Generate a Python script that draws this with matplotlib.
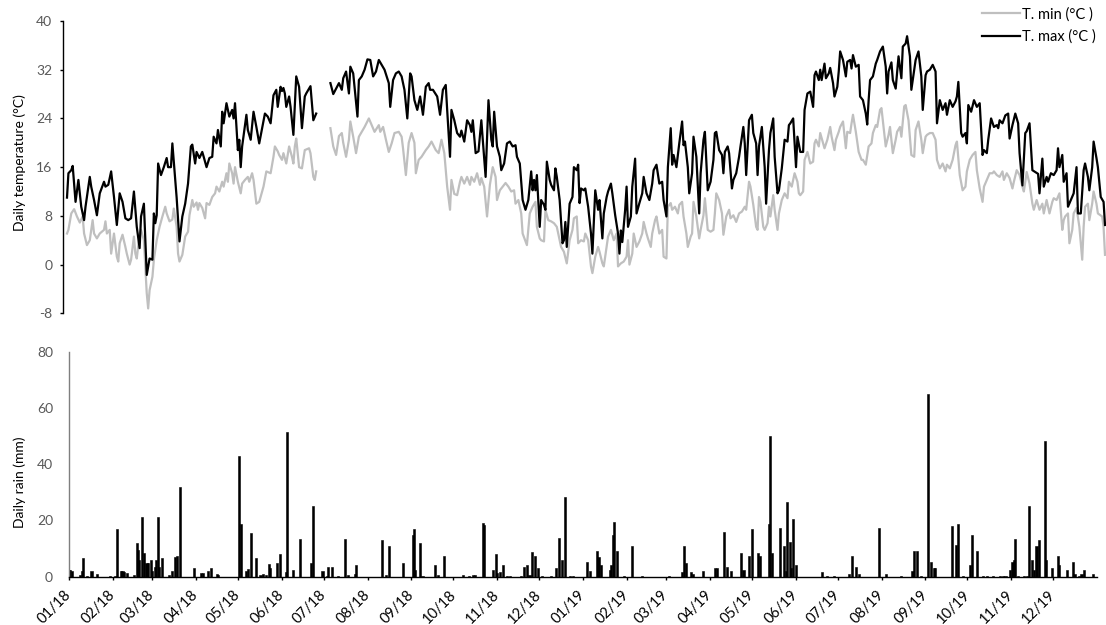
import numpy as np
import pandas as pd
import matplotlib
matplotlib.use("Agg")
import matplotlib.pyplot as plt

# ---------------- data (day offsets from 1 Jan 2018) ----------------
start = pd.Timestamp("2018-01-01")

tmax_day = [0, 1, 3, 4, 6, 8, 10, 12, 13, 16, 17, 19, 21, 23, 26, 27, 29, 31, 33, 35, 37, 39, 41, 43, 45, 47, 49, 51, 52, 54,
            55, 56, 58, 60, 61, 62, 63, 64, 66, 68, 70, 71, 73, 74, 77, 79, 81, 83, 85, 87, 88, 90, 91, 93, 95, 96, 98, 100, 102, 103,
            105, 106, 108, 109, 110, 112, 114, 116, 117, 118, 120, 121, 122, 123, 126, 127, 129, 131, 133, 135, 139, 141, 143, 145, 147, 148, 150, 151, 152, 153,
            154, 156, 157, 159, 161, 163, 165, 167, 168, 171, 173, 175, 180, 185, 187, 189, 191, 193, 194, 196, 198, 199, 201, 204, 205, 207, 209, 211, 213, 215,
            217, 219, 221, 223, 226, 227, 229, 231, 233, 235, 237, 239, 241, 242, 244, 246, 248, 250, 252, 254, 255, 257, 260, 262, 264, 266, 267, 269, 270, 272,
            274, 276, 277, 279, 281, 283, 284, 285, 287, 289, 291, 292, 294, 296, 298, 299, 300, 302, 304, 305, 307, 309, 311, 313, 315, 316, 318, 320, 322, 324,
            326, 327, 328, 329, 330, 332, 333, 335, 336, 337, 339, 340, 342, 343, 344, 346, 348, 349, 350, 351, 353, 355, 356, 358, 359, 360, 361, 363, 364, 366,
            368, 369, 371, 373, 374, 376, 377, 379, 380, 382, 383, 385, 387, 388, 389, 390, 392, 393, 394, 396, 397, 399, 400, 402, 404, 405, 407, 409, 411, 412,
            414, 416, 418, 419, 421, 422, 424, 425, 426, 428, 430, 432, 433, 434, 436, 437, 439, 440, 442, 444, 445, 447, 448, 450, 452, 454, 455, 456, 458, 460,
            461, 462, 464, 465, 467, 468, 470, 472, 473, 475, 476, 477, 479, 481, 482, 484, 485, 486, 488, 490, 491, 493, 494, 496, 497, 499, 500, 502, 504, 506,
            507, 508, 510, 512, 513, 515, 517, 518, 520, 522, 524, 525, 526, 528, 529, 530, 532, 533, 535, 536, 538, 539, 541, 542, 543, 545, 547, 548, 550, 551,
            552, 554, 556, 557, 559, 561, 562, 563, 564, 566, 568, 569, 571, 573, 575, 576, 577, 579, 580, 582, 584, 586, 587, 589, 590, 592, 593, 595, 596, 598,
            600, 601, 603, 604, 606, 608, 610, 611, 613, 615, 617, 618, 620, 622, 624, 625, 626, 628, 629, 631, 632, 633, 635, 637, 639, 641, 643, 644, 646, 647,
            649, 651, 653, 654, 655, 657, 659, 661, 662, 664, 666, 668, 669, 671, 673, 674, 676, 677, 678, 680, 682, 683, 685, 686, 688, 689, 691, 693, 695, 696,
            697, 699, 700, 702, 703, 705, 707, 709, 710, 712, 714, 715, 717, 718, 720, 721, 723, 724, 726, 728, 729]
tmax_val = [11, 15, 15.5, 16.2, 10.3, 13.9, 9.5, 7.3, 9.5, 14.4, 12.8, 10.6, 8.1, 11.7, 13.6, 12.8, 13.1, 15.3, 11.1, 6.5, 11.7, 10.3, 7.6, 7.3, 7.6, 12, 6.2, 2.7, 7.9, 10,
            4, -1.7, 1, 0.8, 8.4, 6.8, 8.1, 16.6, 14.7, 16, 17.5, 16, 16, 19.9, 11, 3.8, 7.9, 10, 13.3, 19.4, 19.7, 16.6, 18.5, 17.5, 18.5, 17.7, 16, 17.5, 17.7, 21,
            19.9, 22.1, 19.4, 25.1, 23.2, 26.5, 24.3, 25.4, 24, 26.5, 18.8, 20.5, 16, 19.4, 24.6, 22.1, 20.5, 25.1, 22.6, 19.9, 24.8, 24.3, 23.2, 27.8, 28.7, 25.9, 29.2, 28.5, 29, 28.1,
            25.9, 27.6, 25.9, 21.3, 30.9, 29.2, 22.4, 27.6, 28.1, 29.3, 23.7, 24.8, np.nan, 29.8, 28, 28.9, 29.8, 28.7, 30.6, 31.7, 28.1, 32.5, 31.4, 24.3, 30.3, 30.9, 32, 33.7, 33.6, 30.9,
            31.7, 33.6, 32.8, 32, 29.8, 25.9, 30.3, 31.4, 31.7, 30.9, 28.7, 24, 31.4, 30.9, 27, 25.4, 27.6, 24.6, 29.2, 29.8, 28.7, 28.7, 27.6, 24.6, 28.7, 29.5, 25.4, 17.7, 25.4, 23.7,
            21.6, 21, 22, 20.2, 23.7, 22.9, 21.8, 23.7, 18.3, 18.6, 23.7, 20.5, 14.4, 27, 20.5, 19.4, 25.1, 19.4, 17.7, 15.5, 16.6, 19.9, 20.2, 19.4, 19.6, 17.7, 16.6, 10.6, 9, 10.6,
            15.3, 12.2, 13.9, 12.2, 14.7, 6.2, 10.6, 9.8, 9, 16.9, 13.9, 13.1, 12.2, 15.8, 14.4, 10.6, 3.5, 4, 7, 2.9, 10, 11.1, 16, 15.5, 16.4, 10.1, 12.5, 12.2, 12.5, 9.5,
            5.1, 1.8, 12.2, 9, 10.6, 4.3, 8.4, 11.1, 12, 13.3, 11.7, 8.1, 5.1, 1.8, 5.6, 3.7, 9, 12.8, 6.2, 7.9, 12.8, 17.4, 8.4, 10.1, 11.7, 14.4, 11.7, 10.6, 13.3, 15.5,
            16.4, 13.3, 13.6, 10.6, 7.9, 16, 22.4, 16.4, 18, 16, 19.9, 23.5, 19.6, 20.2, 16, 11.7, 15, 21, 17.7, 8.4, 15, 20.5, 21.8, 12.2, 13.6, 17.2, 21.6, 21.8, 18.8, 18,
            15, 18.5, 19.4, 18.3, 12.5, 13.9, 15, 17.7, 19.4, 22.6, 19.9, 14.7, 23.7, 24.6, 21.6, 19.9, 14.7, 19.4, 22.6, 16, 10, 18.8, 21.6, 24, 17.7, 11.7, 12.2, 15.8, 20.5, 20.2,
            22.9, 23.2, 24, 16, 21, 18.5, 18.5, 25.4, 28.1, 28.4, 25.9, 31.1, 31.7, 30.3, 32, 30.3, 33, 30.6, 31.4, 32.3, 29.8, 27.6, 29.2, 31.7, 35, 33.6, 30.9, 33.3, 33.6, 32.2,
            34.4, 32.5, 32.8, 27.6, 27, 24.8, 23, 27, 30.3, 30.9, 33, 33.6, 35, 35.8, 32.5, 28.1, 31.7, 33.2, 30.3, 28.9, 34.2, 30.6, 35.8, 36.3, 37.5, 34.2, 28.7, 31.9, 33.6, 35,
            30.9, 25.4, 31.1, 31.7, 32, 32.8, 31.7, 23.2, 27, 25.4, 26.5, 24.6, 27, 25.9, 26.8, 27.6, 30, 21.6, 21, 21.6, 19.9, 26.2, 25.1, 27, 25.9, 26.5, 18, 18.8, 18.3, 20.5,
            24, 22.6, 22.9, 22.4, 23.7, 23.2, 24.5, 24.8, 20.7, 22.9, 24.8, 23.2, 18.3, 13, 21.6, 21.9, 23.2, 19.4, 15.5, 15.2, 14.9, 11.7, 17.4, 12.8, 14.4, 13.6, 15, 14.7, 15.5, 19.1,
            16, 18, 13.6, 15, 9.5, 10.6, 11.7, 16, 8.4, 8.4, 15.5, 16.6, 14.4, 12.2, 16, 20.2, 17.5, 16, 11.1, 10.3, 6.5]

tmin_day = [0, 1, 3, 5, 7, 9, 11, 12, 14, 16, 18, 19, 21, 23, 26, 27, 28, 30, 31, 33, 34, 35, 36, 37, 39, 41, 42, 44, 45, 47,
            48, 49, 51, 52, 54, 55, 56, 57, 58, 60, 61, 63, 65, 67, 69, 70, 72, 74, 75, 77, 78, 79, 81, 83, 85, 86, 88, 89, 91, 92,
            93, 95, 97, 98, 100, 102, 104, 105, 107, 108, 109, 110, 112, 113, 114, 116, 117, 118, 120, 122, 123, 125, 127, 128, 130, 131, 133, 135, 138, 140,
            143, 145, 146, 148, 149, 151, 152, 154, 156, 158, 159, 160, 161, 163, 165, 167, 170, 171, 173, 174, 175, 180, 185, 187, 189, 191, 193, 194, 196, 198,
            199, 201, 203, 205, 207, 209, 212, 214, 216, 219, 220, 222, 224, 226, 228, 230, 233, 235, 236, 238, 240, 242, 244, 245, 247, 249, 252, 254, 256, 259,
            261, 263, 265, 267, 269, 270, 272, 274, 276, 277, 279, 281, 283, 284, 286, 288, 290, 291, 293, 295, 297, 299, 301, 302, 304, 306, 308, 310, 312, 314,
            315, 317, 319, 320, 323, 325, 327, 329, 330, 332, 333, 335, 336, 338, 340, 342, 344, 345, 347, 349, 351, 353, 355, 356, 358, 359, 361, 363, 364, 366,
            368, 369, 371, 373, 374, 376, 377, 379, 380, 382, 384, 386, 387, 389, 391, 393, 394, 395, 397, 398, 400, 402, 404, 405, 407, 408, 410, 411, 413, 414,
            416, 418, 419, 421, 422, 424, 425, 427, 429, 430, 432, 433, 435, 436, 438, 439, 440, 442, 444, 445, 447, 448, 450, 452, 454, 455, 456, 458, 460, 461,
            463, 465, 466, 468, 470, 472, 474, 476, 477, 479, 480, 482, 484, 485, 486, 487, 489, 490, 492, 493, 494, 496, 497, 499, 500, 502, 504, 506, 507, 509,
            511, 513, 514, 515, 517, 518, 520, 522, 524, 525, 526, 528, 529, 531, 532, 534, 536, 537, 539, 540, 542, 543, 545, 547, 548, 550, 551, 552, 554, 556,
            558, 559, 561, 563, 565, 566, 568, 569, 571, 572, 574, 575, 577, 578, 580, 582, 583, 585, 586, 588, 589, 591, 593, 595, 596, 598, 600, 601, 603, 604,
            606, 608, 610, 611, 613, 615, 617, 618, 620, 622, 624, 625, 627, 629, 631, 632, 634, 636, 638, 639, 641, 643, 644, 646, 648, 650, 651, 653, 655, 657,
            658, 660, 662, 664, 665, 667, 669, 671, 672, 674, 676, 678, 679, 681, 683, 685, 686, 688, 690, 692, 693, 695, 697, 699, 700, 701, 703, 704, 706, 707,
            709, 711, 713, 714, 715, 717, 718, 720, 721, 723, 724, 727, 728, 729]
tmin_val = [5.1, 5.7, 8.4, 9.1, 7.9, 6.9, 7.9, 5.1, 3.2, 4, 7.3, 5.1, 4.3, 5.1, 5.7, 7.1, 5.1, 5.7, 1.8, 5.1, 3.2, 1.3, 0.5, 3.5, 4.9, 2.9, 1.8, 0, 0.8, 4.6,
            1.8, 1, 5.1, 5.7, 4, -0.3, -4.7, -7.2, -4.2, -2, 0.8, 4, 6.2, 7.9, 9.5, 8.4, 7.1, 7.4, 9.2, 6.2, 1.8, 0.5, 1.6, 4.6, 5.4, 8.1, 10.6, 9.5, 10.2, 9,
            10.1, 9.3, 7.6, 10.1, 9.8, 11.1, 11.7, 12.8, 12, 12.8, 13.6, 12.8, 15, 13.6, 16.6, 15, 13.3, 16, 13.6, 11.7, 13.3, 13.9, 14.4, 13.6, 15, 13.9, 10, 10.3, 12.8, 15.3,
            15, 17.7, 19.4, 18.6, 18, 17.2, 18.3, 16.6, 19.4, 17.7, 16.6, 19.4, 20.7, 16, 15.8, 18.8, 19.1, 18.3, 14.4, 13.9, 15.3, np.nan, 22.4, 19.4, 18, 21.1, 21.6, 20, 17.7, 20.5,
            23.5, 21, 18.3, 21, 21.8, 22.6, 24, 22.9, 21.8, 22.9, 21.8, 22.6, 20.5, 18.5, 19.9, 21.6, 21.8, 21, 19.1, 14.7, 20, 21.6, 20, 15, 17.2, 17.7, 18.8, 19.4, 20.2, 18.8,
            18.3, 20.5, 18.3, 12.8, 9, 13.9, 11.6, 11.4, 13.6, 14.4, 13.3, 14.4, 13.1, 14.4, 13.6, 15, 13.1, 14.2, 12.8, 7.9, 13.1, 16, 14.4, 10.6, 12.2, 12.8, 13.4, 12.8, 12, 12.2,
            10, 10.6, 8.4, 5.1, 3.2, 8.4, 9.5, 10.3, 6.2, 4.3, 4, 3.8, 9, 7.3, 7.1, 6.8, 6.2, 5.1, 2.9, 2.1, 0.2, 4, 5.7, 7.6, 7.9, 3.5, 4, 3.8, 5.1, 4,
            -0.3, -1.4, 1.3, 2.9, 2.1, 0.2, -0.3, 2.9, 4.6, 5.7, 4, 5.1, -0.3, 0.2, 0.5, 1.3, 4, 0, 1.8, 5.1, 2.9, 3.8, 5.1, 7, 5.1, 4.3, 2.9, 5.1, 7.3, 7.9,
            5.1, 5.7, 1.3, 1, 9.5, 10.1, 9, 9.5, 8.4, 9.8, 10.3, 7.9, 5.1, 2.9, 4.6, 5.1, 10.3, 7.9, 4.3, 5.7, 8.1, 10.9, 5.7, 5.4, 5.7, 8.4, 11.7, 10.6, 8.4, 4.9,
            7.9, 9, 7.6, 8.1, 7, 8.4, 8.7, 9.5, 9, 13.6, 12.8, 9.8, 6.2, 5.7, 11.1, 10.3, 6.2, 5.7, 6.8, 9.5, 7.9, 11.4, 9, 5.7, 8.4, 10.6, 11.7, 10.9, 13.6, 12.8,
            15, 13.6, 11.7, 11.4, 12, 17.2, 18.5, 16.6, 16.9, 19.9, 20.5, 19.4, 21.6, 19.9, 19.1, 20.5, 22.6, 21, 18.8, 20.5, 21.8, 22.6, 23.5, 19.1, 21.8, 21.6, 23.2, 24.6, 21.8, 18.5,
            17.2, 17.2, 16.4, 19.4, 19.9, 21.6, 22.9, 22.6, 25.4, 25.7, 21.6, 19.4, 21.3, 22.6, 18.3, 20.5, 21.8, 22.6, 21, 26, 26.2, 23.7, 18, 17.7, 22.1, 23.5, 20.5, 18.3, 21, 21.3,
            21.6, 21.6, 20.5, 17.2, 15.8, 16.6, 15.3, 16.4, 15.8, 17.2, 19.6, 20.2, 14.7, 12.2, 12.8, 15.3, 17.2, 18, 18.5, 15.5, 12.5, 10.3, 12.8, 13.9, 15, 15, 15.3, 14.7, 14.4, 15.3,
            13.9, 15, 14.2, 12.5, 13.6, 15.5, 14.7, 12.8, 12, 15.2, 13.3, 10, 9, 10.6, 9, 10, 8.4, 10.6, 8.4, 10.3, 10.9, 10.6, 11.7, 5.7, 7.3, 7.9, 8.4, 3.5, 5.7, 8.4,
            9.3, 6.2, 0.8, 6.2, 9.5, 10, 7.3, 10, 12, 10, 8.4, 7.9, 6.2, 1.6]

rain_day = [0, 1, 2, 8, 9, 10, 13, 16, 20, 29, 33, 34, 37, 38, 39, 41, 46, 48, 49, 50, 52, 53, 55, 56, 58, 59, 61, 62, 63, 64,
            66, 71, 73, 75, 77, 79, 89, 94, 95, 99, 101, 105, 106, 121, 122, 126, 127, 129, 133, 136, 138, 140, 142, 143, 148, 150, 154, 155, 159, 164,
            172, 173, 180, 183, 184, 187, 191, 196, 198, 203, 204, 222, 225, 227, 237, 244, 245, 246, 249, 251, 260, 262, 266, 280, 284, 287, 288, 294, 295, 301,
            303, 304, 306, 308, 311, 313, 321, 323, 325, 327, 329, 331, 333, 336, 342, 346, 348, 350, 352, 356, 358, 368, 370, 375, 376, 378, 384, 385, 386, 387,
            389, 394, 400, 407, 426, 435, 437, 438, 442, 443, 450, 459, 460, 465, 467, 470, 477, 479, 483, 485, 489, 491, 497, 498, 499, 505, 508, 509, 510, 512,
            513, 514, 516, 535, 538, 543, 554, 556, 559, 561, 575, 580, 591, 599, 600, 602, 605, 610, 612, 614, 615, 627, 630, 631, 635, 640, 641, 645, 649, 652,
            656, 661, 663, 665, 668, 670, 671, 672, 674, 678, 680, 682, 684, 685, 687, 689, 693, 694, 698, 702, 703, 709, 713, 714, 717, 719, 721, 727]
rain_mm = [2.5, 2.5, 2.0, 0.6, 2, 6.5, 0.4, 2, 0.8, 0.4, 0.4, 17, 2.1, 2, 1.5, 1.4, 0.5, 12.1, 9.5, 5.9, 21.3, 8.3, 4.7, 4.7, 5.9, 2, 3.6, 5.9, 21.3, 3.6,
           6.5, 0.6, 2, 7.1, 7.5, 31.8, 3.2, 1.2, 1.4, 2, 3.2, 0.8, 0.5, 42.9, 18.6, 2, 2.6, 15.4, 6.5, 0.6, 1, 0.6, 4.6, 3.2, 4.7, 8.1, 1.8, 51.6, 2.4, 13.5,
           4.7, 25.1, 2, 0.4, 3.6, 3.6, 0.3, 13.5, 0.5, 0.8, 4.1, 12.9, 0.6, 10.8, 4.7, 14.7, 16.8, 2.4, 11.9, 0.4, 4.1, 0.6, 7.3, 0.6, 0.4, 0.6, 0.6, 19.1, 18.3, 2.4,
           8.1, 1.2, 1.8, 4.1, 0.4, 0.3, 0.4, 3.6, 4.1, 0.6, 8.7, 7.3, 3, 0.4, 0.4, 3, 13.6, 5.9, 28.4, 0.4, 0.4, 5.3, 2.1, 9.2, 6.9, 4.1, 2.4, 4.1, 14.7, 19.6,
           9.2, 0.3, 10.9, 0.3, 0.3, 1.8, 10.9, 4.7, 1.8, 1, 2, 3, 3, 15.8, 3.6, 2.1, 8.5, 2.4, 7.3, 16.8, 8.5, 7.3, 18.6, 50, 8.5, 17.4, 10.9, 2, 26.7, 12.4,
           3, 20.6, 4.1, 1.5, 0.3, 0.3, 1, 7.5, 3.6, 0.8, 17.4, 1, 0.3, 2, 9.2, 9.2, 0.3, 65, 5.3, 3, 3, 18.1, 11.3, 18.6, 0.3, 4.1, 14.7, 9.2, 0.3, 0.3,
           0.3, 0.4, 0.4, 0.4, 2.4, 5.3, 5.9, 13.5, 0.3, 0.3, 0.3, 25.2, 5.9, 2.4, 10.9, 13, 48.4, 5.9, 3, 7.5, 4.1, 2.4, 5.3, 0.8, 0.3, 0.8, 2.4, 0.8]

temp_ticks = [-8, 0, 8, 16, 24, 32, 40]
rain_ticks = [0, 20, 40, 60, 80]
month_starts = pd.date_range("2018-01-01", "2019-12-01", freq="MS")
month_ticks = list((month_starts - start).days)
month_labels = [d.strftime("%m/%y") for d in month_starts]

# ---------------- figure ----------------
plt.rcParams["font.family"] = ["Lato", "DejaVu Sans"]
plt.rcParams["axes.unicode_minus"] = False
W, H = 1106, 625
fig = plt.figure(figsize=(W / 100, H / 100), dpi=100)

def frac(x0, y_top, x1, y_bot):
    return [x0 / W, 1 - y_bot / H, (x1 - x0) / W, (y_bot - y_top) / H]

tick_gray = "#595959"

# --- temperature panel ---
ax1 = fig.add_axes(frac(63.3, 21, 1106, 313.3))
ax1.plot(tmin_day, tmin_val, color="#BFBFBF", lw=1.6, label="T. min (°C )")
ax1.plot(tmax_day, tmax_val, color="black", lw=1.6, label="T. max (°C )")
px_per_day = (1105 - 67) / 729
ax1.set_xlim(-(67 - 63.3) / px_per_day, 729 + 1 / px_per_day)
ax1.set_ylim(-8, 40)
ax1.set_yticks(temp_ticks)
ax1.set_xticks([])
for s in ["top", "right", "bottom"]:
    ax1.spines[s].set_visible(False)
ax1.spines["left"].set_color("black")
ax1.spines["left"].set_linewidth(1.0)
ax1.tick_params(axis="y", direction="out", length=2.5, width=1.0, color="black",
                labelsize=10, labelcolor=tick_gray, pad=5.5)
ax1.patch.set_alpha(0)

# --- rain panel ---
ax2 = fig.add_axes(frac(69, 351.7, 1097, 576.7))
ax2.bar(rain_day, rain_mm, width=1.5, color="black", edgecolor="black", linewidth=0.4)
ax2.set_xlim(0, 730)
ax2.set_ylim(0, 80)
ax2.set_yticks(rain_ticks)
ax2.set_xticks(month_ticks)
ax2.set_xticklabels(month_labels, rotation=45, ha="right", va="center", rotation_mode="anchor")
for s in ["top", "right"]:
    ax2.spines[s].set_visible(False)
ax2.spines["left"].set_color("#7F7F7F")
ax2.spines["left"].set_linewidth(1.0)
ax2.spines["bottom"].set_color("black")
ax2.spines["bottom"].set_linewidth(1.0)
ax2.tick_params(axis="y", length=0, labelsize=10, labelcolor=tick_gray, pad=11.5)
ax2.tick_params(axis="x", direction="out", length=2.5, width=1.0, color="black",
                labelsize=10.5, labelcolor="black", pad=9)

# --- axis titles ---
fig.text(20 / W, 1 - 163 / H, "Daily temperature (°C)", rotation=90, ha="center", va="center",
         fontsize=10, color="black")
fig.text(20 / W, 1 - 482 / H, "Daily rain (mm)", rotation=90, ha="center", va="center",
         fontsize=10, color="black")

# --- legend ---
fig.legend(loc="upper left", bbox_to_anchor=(982 / W, 1 - 7 / H), frameon=False,
           fontsize=10.5, handlelength=2.6, handletextpad=0.15, labelspacing=0.55,
           borderpad=0, borderaxespad=0, labelcolor="black")

fig.savefig("out.png", dpi=100)
